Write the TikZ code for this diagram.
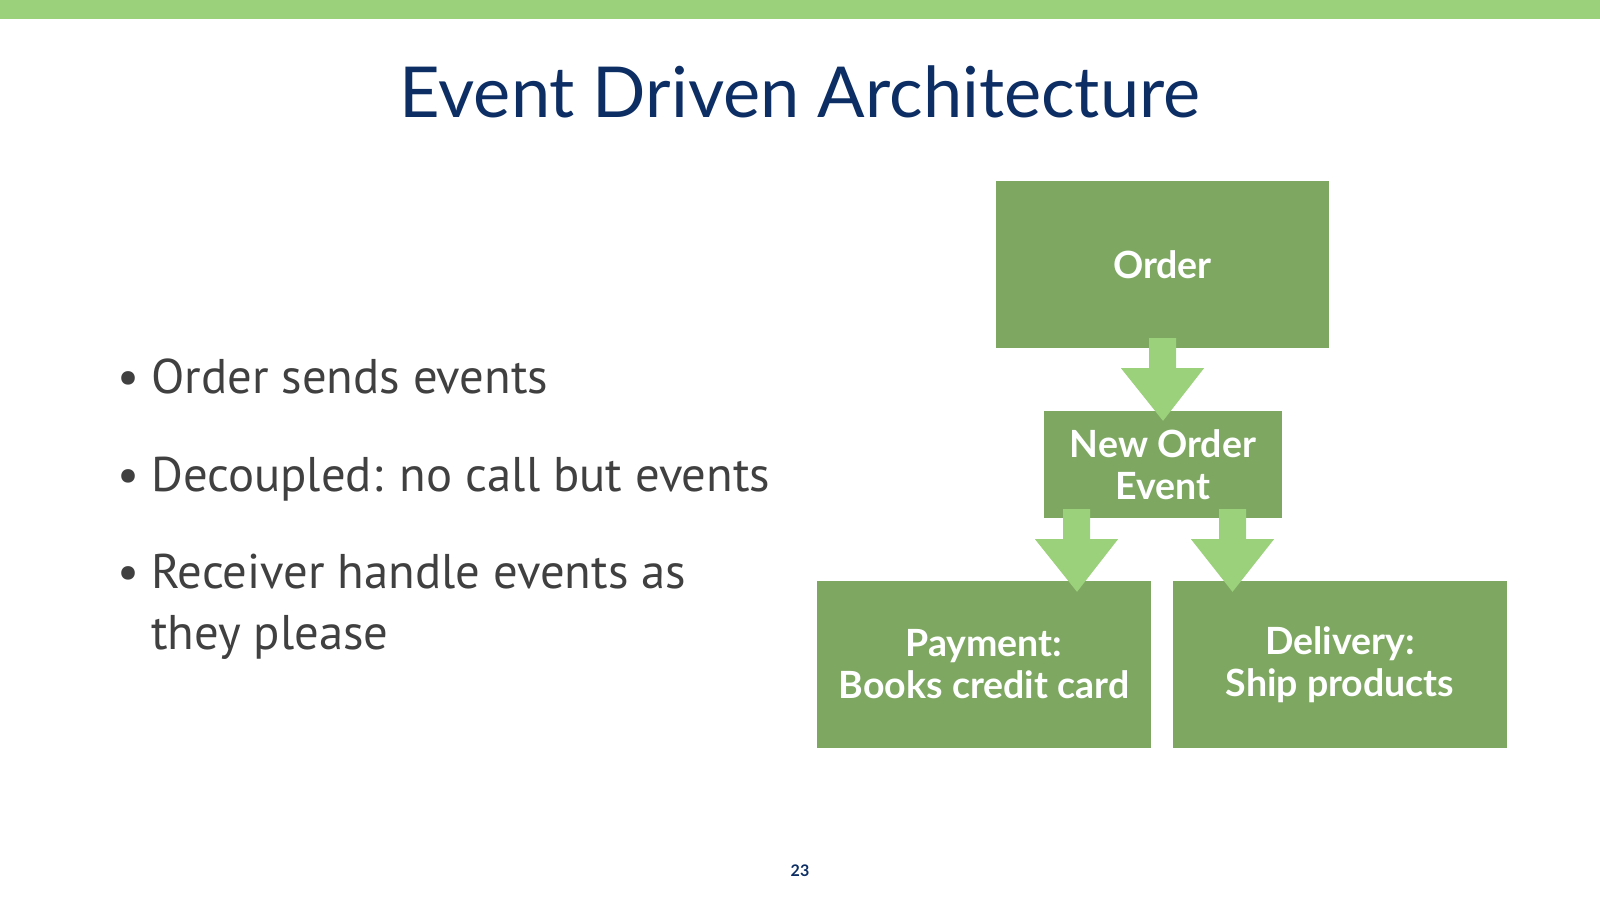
\documentclass[tikz,border=0pt]{standalone}
\usepackage{fontspec}
\usetikzlibrary{calc}
\newfontfamily\titlefont{Lato}
\newfontfamily\bulletfont{PT Sans}
\newfontfamily\boxfont{Lato}
\definecolor{bar}{HTML}{9CD17B}
\definecolor{boxgreen}{HTML}{7EA862}
\definecolor{navy}{HTML}{0C2E64}
\definecolor{txtgray}{HTML}{404040}
\tikzset{
  gbox/.style={fill=boxgreen, draw=none, inner sep=0pt, text=white,
    font=\boxfont\bfseries\fontsize{37.5}{42}\selectfont, align=center},
  bullettext/.style={anchor=base west, inner sep=0pt, text=txtgray,
    font=\bulletfont\fontsize{48.7}{61}\selectfont},
  arrowfill/.style={fill=bar, draw=none}
}
\newcommand{\fatarrow}[2]{%
  \fill[arrowfill] ($(#1)+(-13.5,0)$) -- ($(#1)+(13.5,0)$) -- ($(#1)+(13.5,30)$)
    -- ($(#1)+(41.5,30)$) -- (#2) -- ($(#1)+(-41.5,30)$) -- ($(#1)+(-13.5,30)$) -- cycle;}
\begin{document}
\begin{tikzpicture}[x=1pt,y=-1pt]
\useasboundingbox (0,0) rectangle (1600,900);
\fill[white] (0,0) rectangle (1600,900);
\fill[bar] (0,0) rectangle (1600,19);

\node[anchor=base, inner sep=0pt, text=navy, font=\titlefont\fontsize{70.3}{74}\selectfont] (title) at (800,117) {Event Driven Architecture};

\node[bullettext] (b1d) at (117,393) {•};
\node[bullettext] (b1) at (151,393) {Order sends events};
\node[bullettext] (b2d) at (117,491) {•};
\node[bullettext] (b2) at (151,491) {Decoupled: no call but events};
\node[bullettext] (b3d) at (117,588) {•};
\node[bullettext] (b3) at (151,588) {Receiver handle events as};
\node[bullettext] (b4) at (151,649) {they please};

\node[gbox, minimum width=333pt, minimum height=167pt] (order) at (1162.5,264.5) {Order};
\node[gbox, minimum width=238pt, minimum height=107pt] (neo) at (1163,464.5) {New Order\\Event};
\node[gbox, minimum width=334pt, minimum height=167pt] (pay) at (984,664.5) {Payment:\\Books credit card};
\node[gbox, minimum width=334pt, minimum height=167pt] (del) at (1340,664.5) {Delivery:\\Ship products};

\coordinate (a1s) at ($(order.south)+(0,-10)$);
\coordinate (a1e) at ($(neo.north)+(0,10)$);
\coordinate (a2s) at ($(neo.south)+(-86.5,-9)$);
\coordinate (a2e) at ($(pay.north)+(93,11)$);
\coordinate (a3s) at ($(neo.south)+(69.5,-9)$);
\coordinate (a3e) at ($(del.north)+(-107.5,11)$);
\fatarrow{a1s}{a1e}
\fatarrow{a2s}{a2e}
\fatarrow{a3s}{a3e}

\node[anchor=base, inner sep=0pt, text=navy, font=\titlefont\bfseries\fontsize{16}{18}\selectfont] (pnum) at (800,876) {23};
\end{tikzpicture}
\end{document}
